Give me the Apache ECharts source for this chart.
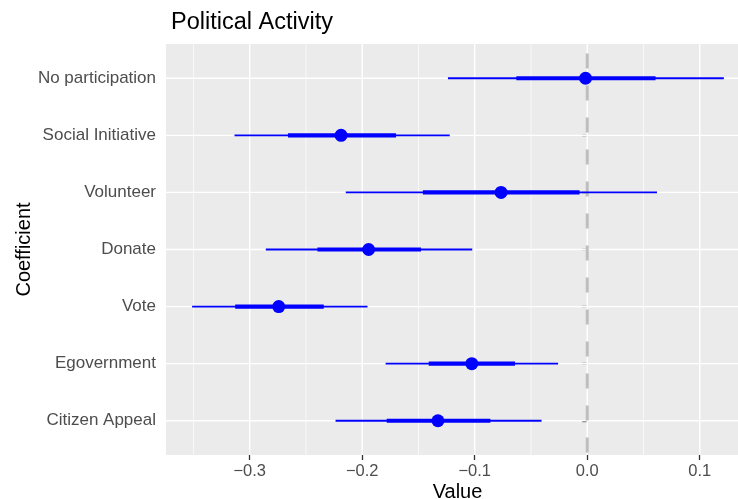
<!DOCTYPE html>
<html>
<head>
<meta charset="utf-8">
<script src="https://cdn.jsdelivr.net/npm/echarts@6/dist/echarts.min.js"></script>
<style>html,body{margin:0;padding:0;background:#fff}#c{width:738px;height:499px}</style>
</head>
<body>
<div id="c"></div>
<script>
// Categories listed top to bottom
const categories = ['No participation', 'Social Initiative', 'Volunteer', 'Donate', 'Vote', 'Egovernment', 'Citizen Appeal'];
const estimate   = [-0.0015, -0.2188, -0.0766, -0.1943, -0.2742, -0.1026, -0.1327];
const outerLow   = [-0.1238, -0.3135, -0.2146, -0.2857, -0.3512, -0.1792, -0.2237];
const outerHigh  = [ 0.1214, -0.1222,  0.0620, -0.1022, -0.1953, -0.0259, -0.0406];
const innerLow   = [-0.0630, -0.2660, -0.1461, -0.2398, -0.3129, -0.1409, -0.1782];
const innerHigh  = [ 0.0607, -0.1700, -0.0068, -0.1477, -0.2342, -0.0642, -0.0861];
const xMajorTicks = [-0.3, -0.2, -0.1, 0.0, 0.1];
const xMinorTicks = [-0.35, -0.25, -0.15, -0.05, 0.05];
const zeroLine = [0];

const FONT = 'Liberation Sans, Arial, sans-serif';
const n = categories.length;
const yTicks = categories.map((c, i) => n - i);

const ciData = categories.map((c, i) => [outerLow[i], outerHigh[i], innerLow[i], innerHigh[i], n - i]);
const ptData = categories.map((c, i) => [estimate[i], n - i]);

function fmtX(v) {
  const s = Math.abs(v).toFixed(1);
  return v < -1e-9 ? '\u2212' + s : s;
}

function vLine(width, color, dash, dashOffset) {
  return function (params, api) {
    const cs = params.coordSys;
    const x = api.coord([api.value(0), 1])[0];
    return {
      type: 'line',
      shape: { x1: x, y1: cs.y + cs.height, x2: x, y2: cs.y },
      style: { stroke: color, lineWidth: width, lineDash: dash || null, lineDashOffset: dashOffset || 0 }
    };
  };
}
function hLine(width, color) {
  return function (params, api) {
    const cs = params.coordSys;
    const y = api.coord([0, api.value(0)])[1];
    return {
      type: 'line',
      shape: { x1: cs.x, y1: y, x2: cs.x + cs.width, y2: y },
      style: { stroke: color, lineWidth: width }
    };
  };
}

const chart = echarts.init(document.getElementById('c'), null, { renderer: 'canvas' });
chart.setOption({
  animation: false,
  backgroundColor: '#ffffff',
  title: {
    text: 'Political Activity',
    left: 166, top: 6,
    textStyle: { fontFamily: FONT, fontSize: 23.5, fontWeight: 'normal', color: '#000000' }
  },
  grid: {
    left: 166, right: 0, top: 44, bottom: 44,
    containLabel: false,
    outerBoundsMode: 'none',
    show: true, backgroundColor: '#EBEBEB', borderWidth: 0
  },
  xAxis: {
    type: 'value',
    min: -0.3744, max: 0.1340,
    name: 'Value',
    nameLocation: 'middle',
    nameGap: 27,
    nameMoveOverlap: false,
    nameTextStyle: { fontFamily: FONT, fontSize: 20, color: '#000000', padding: [0, 0, 0, 11] },
    axisLine: { show: false },
    splitLine: { show: false },
    axisTick: { show: true, customValues: xMajorTicks, length: 5, lineStyle: { color: '#333333', width: 1.3 } },
    axisLabel: { customValues: xMajorTicks, formatter: fmtX, fontFamily: FONT, fontSize: 16.5, color: '#4D4D4D', margin: 8 }
  },
  yAxis: {
    type: 'value',
    min: 0.4, max: 7.6,
    name: 'Coefficient',
    nameLocation: 'middle',
    nameGap: 132,
    nameMoveOverlap: false,
    nameRotate: 90,
    nameTextStyle: { fontFamily: FONT, fontSize: 20, color: '#000000' },
    axisLine: { show: false },
    splitLine: { show: false },
    axisTick: { show: true, customValues: yTicks, length: 5, lineStyle: { color: '#333333', width: 1.3 } },
    axisLabel: {
      customValues: yTicks,
      formatter: v => categories[n - Math.round(v)] || '',
      fontFamily: FONT, fontSize: 17, color: '#4D4D4D', margin: 10
    }
  },
  series: [
    { type: 'custom', z: 1, silent: true, data: xMinorTicks.map(v => [v]), renderItem: vLine(0.7, '#FFFFFF'), encode: { x: 0 } },
    { type: 'custom', z: 1, silent: true, data: xMajorTicks.map(v => [v]), renderItem: vLine(1.4, '#FFFFFF'), encode: { x: 0 } },
    { type: 'custom', z: 1, silent: true, data: yTicks.map(v => [v]), renderItem: hLine(1.4, '#FFFFFF'), encode: { y: 0 } },
    { type: 'custom', z: 2, silent: true, data: zeroLine.map(v => [v]), renderItem: vLine(3, '#BEBEBE', [15, 17], 29.4), encode: { x: 0 } },
    {
      type: 'custom', z: 3, silent: true,
      data: ciData,
      encode: { x: [0, 1, 2, 3], y: 4 },
      renderItem: function (params, api) {
        const y = api.value(4);
        const a = api.coord([api.value(0), y]);
        const b = api.coord([api.value(1), y]);
        const c = api.coord([api.value(2), y]);
        const d = api.coord([api.value(3), y]);
        return {
          type: 'group',
          children: [
            { type: 'line', shape: { x1: a[0], y1: a[1], x2: b[0], y2: b[1] }, style: { stroke: '#0000FF', lineWidth: 1.8 } },
            { type: 'line', shape: { x1: c[0], y1: c[1], x2: d[0], y2: d[1] }, style: { stroke: '#0000FF', lineWidth: 4.2 } }
          ]
        };
      }
    },
    {
      type: 'scatter', z: 4, silent: true,
      data: ptData,
      symbol: 'circle', symbolSize: 13,
      itemStyle: { color: '#0000FF', opacity: 1 }
    }
  ]
});
</script>
</body>
</html>
